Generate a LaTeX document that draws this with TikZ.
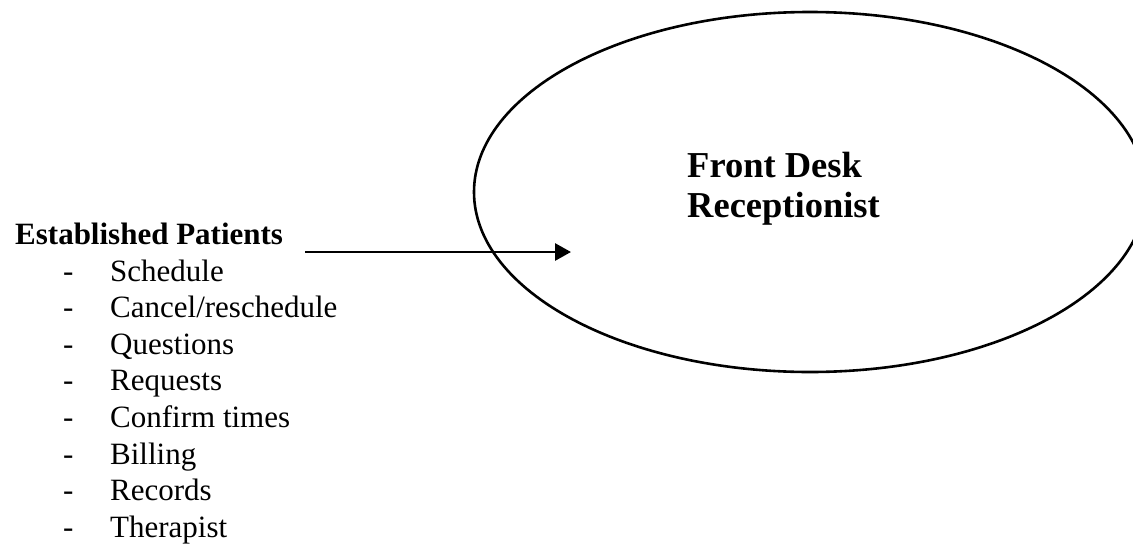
\documentclass[tikz,border=0pt]{standalone}
\usepackage{fontspec}
\setmainfont{Liberation Serif}
\usetikzlibrary{shapes.geometric,arrows.meta}
\tikzset{
  deskshape/.style={draw, ellipse, line width=2.6pt, minimum width=672pt, minimum height=360pt, inner sep=0pt},
  bigbold/.style={font=\fontsize{36.5}{40}\selectfont\bfseries, inner sep=0pt},
  headbold/.style={font=\fontsize{31}{36.6}\selectfont\bfseries, inner sep=0pt},
  listtext/.style={font=\fontsize{31}{36.6}\selectfont, inner sep=0pt},
  flow/.style={line width=2.8pt, -{Triangle[length=16pt,width=17pt]}}
}
\begin{document}
\begin{tikzpicture}[x=1pt,y=-1pt]
\useasboundingbox (0,0) rectangle (1133,544);
\clip (0,0) rectangle (1133,544);
\node[deskshape] (desk) at (810,192) {};
\node[bigbold, anchor=base west] (desklabel) at (687,177)
  {\begin{tabular}[t]{@{}l@{}}Front Desk\\Receptionist\end{tabular}};
\node[headbold, anchor=base west] (pat) at (15,244) {Established Patients};
\node[listtext, anchor=base west] (items) at (63,281)
  {\begin{tabular}[t]{@{}l@{}}
  \makebox[47pt][l]{-}Schedule\\
  \makebox[47pt][l]{-}Cancel/reschedule\\
  \makebox[47pt][l]{-}Questions\\
  \makebox[47pt][l]{-}Requests\\
  \makebox[47pt][l]{-}Confirm times\\
  \makebox[47pt][l]{-}Billing\\
  \makebox[47pt][l]{-}Records\\
  \makebox[47pt][l]{-}Therapist
  \end{tabular}};
\coordinate (from) at (305,252);
\coordinate (to) at (571,252);
\draw[flow] (from) -- (to);
\end{tikzpicture}
\end{document}
